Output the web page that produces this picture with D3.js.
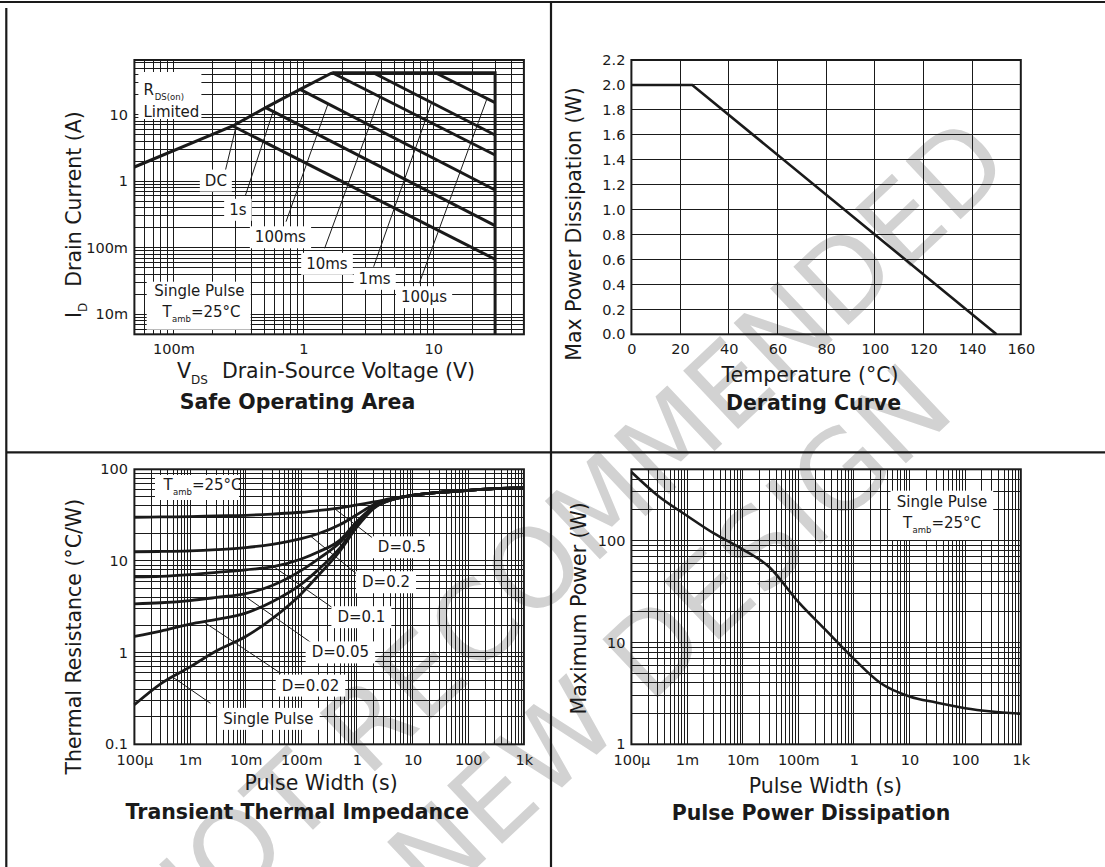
<!DOCTYPE html>
<html>
<head>
<meta charset="utf-8">
<script src="https://cdn.jsdelivr.net/npm/d3@7"></script>
<style>
  body { margin: 0; background: #fff; }
  svg { display: block; }
  text { font-family: "DejaVu Sans", sans-serif; fill: #1a1a1a; }
  .tick text { font-size: 14.5px; }
  .note { font-size: 15px; }
  .sub { font-size: 8.5px; }
  .axis-title { font-size: 20.5px; }
  .title { font-size: 20.5px; font-weight: bold; }
</style>
</head>
<body>
<div id="sheet"></div>
<script>
// ---------- Safe Operating Area (VDS in V, ID in A) ----------
const soaXTicks = [0.1, 1, 10];
const soaXLabels = ["100m", "1", "10"];
const soaYTicks = [0.01, 0.1, 1, 10];
const soaYLabels = ["10m", "100m", "1", "10"];
const soaRdsLimit = [[0.05, 1.63], [0.286, 6.73], [0.513, 12.7], [0.944, 23.9], [1.67, 42.5]];
const soaOuterLimit = [[1.67, 42.5], [30, 42.5], [30, 0.005]];
const soaPulseNames = ["DC", "1s", "100ms", "10ms", "1ms", "100µs"];
const soaPulseStart = [[0.286, 6.73], [0.513, 12.7], [0.944, 23.9], [1.67, 42.5], [3.45, 42.5], [10.4, 42.5]];
const soaPulseEnd = [[30, 0.067], [30, 0.214], [30, 0.736], [30, 2.47], [30, 4.93], [30, 15.1]];
const soaLabelAt = [[0.212, 1.04], [0.313, 0.378], [0.666, 0.146], [1.52, 0.0583], [3.54, 0.0347], [8.5, 0.0184]];
const soaPointerFrom = [[0.248, 1.31], [0.359, 0.619], [0.736, 0.246], [1.46, 0.098], [3.48, 0.0518], [7.82, 0.0292]];
const soaPointerTo = [[0.302, 6.38], [0.585, 11.1], [1.55, 14.5], [3.9, 18.4], [9.73, 15.1], [26, 17.4]];

// ---------- Derating curve ----------
const derTemp = [0, 25, 150];
const derPower = [2.0, 2.0, 0.0];
const derXTicks = [0, 20, 40, 60, 80, 100, 120, 140, 160];
const derYTicks = [0, 0.2, 0.4, 0.6, 0.8, 1.0, 1.2, 1.4, 1.6, 1.8, 2.0, 2.2];

// ---------- Transient thermal impedance ----------
const timeTicks = [1e-4, 1e-3, 1e-2, 0.1, 1, 10, 100, 1000];
const timeLabels = ["100µ", "1m", "10m", "100m", "1", "10", "100", "1k"];
const zthYTicks = [0.1, 1, 10, 100];
const zthYLabels = ["0.1", "1", "10", "100"];
const zthTime = [1e-4, 3e-4, 1e-3, 3e-3, 1e-2, 3e-2, 0.1, 0.2, 0.5, 1, 2, 5, 10, 30, 100, 300, 1000];
const zthD05 = [30, 30.2, 30.5, 31, 31.5, 32.5, 34, 35.5, 38, 41, 44, 49, 52, 56, 59, 61.5, 62.5];
const zthD02 = [12.6, 12.7, 12.9, 13.3, 14, 15.2, 17.5, 19.8, 25, 32, 41, 48, 52, 56, 59, 61.5, 62.5];
const zthD01 = [6.7, 6.8, 7.1, 7.5, 8.0, 8.6, 10.5, 12.5, 17, 27, 39, 48, 52, 56, 59, 61.5, 62.5];
const zthD005 = [3.4, 3.5, 3.7, 4.0, 4.4, 5.4, 7.9, 10.5, 16, 26, 39, 48, 52, 56, 59, 61.5, 62.5];
const zthD002 = [1.5, 1.72, 2.05, 2.3, 2.7, 3.6, 5.6, 8, 14, 24.5, 38, 48, 52, 56, 59, 61.5, 62.5];
const zthSingle = [0.27, 0.46, 0.7, 1.05, 1.5, 2.35, 4.4, 6.9, 13, 23.5, 37.5, 48, 52, 56, 59, 61.5, 62.5];
const zthNames = ["D=0.5", "D=0.2", "D=0.1", "D=0.05", "D=0.02", "Single Pulse"];
const zthLabelAt = [[6.4, 14.3], [3.33, 5.94], [1.2, 2.47], [0.504, 1.02], [0.146, 0.443], [0.0256, 0.192]];
const zthPointerFrom = [[2.14, 16.9], [1.04, 7.03], [0.376, 3.04], [0.157, 1.26], [0.0426, 0.595], [0.00233, 0.28]];
const zthPointerTo = [[0.4, 37], [0.146, 18.7], [0.0319, 8.66], [0.0086, 4.33], [0.00175, 2.17], [0.00047, 0.55]];

// ---------- Pulse power dissipation ----------
const ppYTicks = [1, 10, 100];
const ppYLabels = ["1", "10", "100"];
const ppTime = [1e-4, 3e-4, 1e-3, 3e-3, 1e-2, 3e-2, 0.1, 0.3, 1, 3, 10, 30, 100, 300, 1000];
const ppPower = [470, 275, 175, 118, 82, 55, 25, 13.5, 6.9, 4.0, 2.95, 2.57, 2.26, 2.1, 2.0];

const watermark = ["NOT RECOMMENDED", "FOR NEW DESIGN"];

const ink = "#1a1a1a";
const svg = d3.select("#sheet").append("svg").attr("width", 1105).attr("height", 867);

// watermark sits under everything
svg.append("g").selectAll("text").data(watermark).join("text")
    .attr("transform", (d, i) => i === 0 ? "translate(566,539) rotate(-43.3)" : "translate(575,723) rotate(-43.3)")
    .attr("text-anchor", "middle")
    .attr("dominant-baseline", "central")
    .style("font-size", "110px")
    .style("fill", "#d2d2d2")
    .text(d => d);

// page frame
const border = svg.append("g").attr("stroke", ink).attr("stroke-width", 2.2);
border.append("line").attr("x1", 0).attr("x2", 1105).attr("y1", 2).attr("y2", 2);
border.append("line").attr("x1", 6.3).attr("x2", 6.3).attr("y1", 8).attr("y2", 867);
border.append("line").attr("x1", 551).attr("x2", 551).attr("y1", 2).attr("y2", 867);
border.append("line").attr("x1", 6.3).attr("x2", 1105).attr("y1", 452.3).attr("y2", 452.3);

const leftX = [134.4, 523.9], rightX = [631.4, 1020.8];
const topY = [334.3, 60], bottomY = [744.3, 469.3];

function plotFrame(x, y, xGrid, yGrid, xTicks, xLabels, yTicks, yLabels, padBottom, padLeft) {
    const g = svg.append("g");
    const [x0, x1] = x.range(), [y1, y0] = y.range();
    const grid = g.append("g").attr("stroke", ink).attr("stroke-width", 1).attr("shape-rendering", "crispEdges");
    grid.selectAll(".gx").data(xGrid).join("line").attr("class", "gx")
        .attr("x1", d => x(d)).attr("x2", d => x(d)).attr("y1", y0).attr("y2", y1);
    grid.selectAll(".gy").data(yGrid).join("line").attr("class", "gy")
        .attr("y1", d => y(d)).attr("y2", d => y(d)).attr("x1", x0).attr("x2", x1);
    g.append("rect").attr("x", x0).attr("y", y0).attr("width", x1 - x0).attr("height", y1 - y0)
        .attr("fill", "none").attr("stroke", ink).attr("stroke-width", 2);
    g.append("g").attr("transform", `translate(0,${y1})`)
        .call(d3.axisBottom(x).tickValues(xTicks).tickFormat((d, i) => xLabels[i]).tickSize(0).tickPadding(padBottom))
        .call(a => a.select(".domain").remove());
    g.append("g").attr("transform", `translate(${x0},0)`)
        .call(d3.axisLeft(y).tickValues(yTicks).tickFormat((d, i) => yLabels[i]).tickSize(0).tickPadding(padLeft))
        .call(a => a.select(".domain").remove());
    return g;
}

// white-backed label, centred on (x, y)
function noteBox(g, x, y, label, padX, padY) {
    const t = g.append("text").attr("class", "note").attr("x", x).attr("y", y)
        .attr("dy", "0.37em").attr("text-anchor", "middle").text(label);
    const b = t.node().getBBox();
    g.insert("rect", () => t.node())
        .attr("x", b.x - padX).attr("y", b.y - padY)
        .attr("width", b.width + 2 * padX).attr("height", b.height + 2 * padY)
        .attr("fill", "#fff");
}

// "T" with "amb" subscript then "=25°C"
function tambText(g, x, y, anchor) {
    const t = g.append("text").attr("class", "note").attr("x", x).attr("y", y).attr("text-anchor", anchor);
    t.append("tspan").text("T");
    t.append("tspan").attr("class", "sub").attr("dy", 5).attr("dx", 0.5).text("amb");
    t.append("tspan").attr("dy", -5).text("=25°C");
}

function axisTitles(xTitle, xPos, yTitle, yPos, title, titlePos) {
    if (xTitle) svg.append("text").attr("class", "axis-title").attr("x", xPos[0]).attr("y", xPos[1])
        .attr("text-anchor", "middle").text(xTitle);
    if (yTitle) svg.append("text").attr("class", "axis-title")
        .attr("transform", `translate(${yPos[0]},${yPos[1]}) rotate(-90)`)
        .attr("text-anchor", "middle").text(yTitle);
    svg.append("text").attr("class", "title").attr("x", titlePos[0]).attr("y", titlePos[1])
        .attr("text-anchor", "middle").text(title);
}

// ================= Safe Operating Area =================
{
    const x = d3.scaleLog().domain([0.05, 50]).range(leftX);
    const y = d3.scaleLog().domain([0.005, 66]).range(topY);
    const g = plotFrame(x, y, x.ticks(), y.ticks(), soaXTicks, soaXLabels, soaYTicks, soaYLabels, 9.4, 6.4);
    const line = d3.line().x(d => x(d[0])).y(d => y(d[1]));

    const curves = g.append("g").attr("fill", "none").attr("stroke", ink).attr("stroke-width", 3);
    curves.append("path").attr("d", line(soaRdsLimit));
    curves.append("path").attr("d", line(soaOuterLimit));
    curves.selectAll(".pulse").data(soaPulseNames).join("path").attr("class", "pulse")
        .attr("d", (d, i) => line([soaPulseStart[i], soaPulseEnd[i]]));

    g.append("g").attr("stroke", ink).attr("stroke-width", 1)
        .selectAll("line").data(soaPulseNames).join("line")
        .attr("x1", (d, i) => x(soaPointerFrom[i][0])).attr("y1", (d, i) => y(soaPointerFrom[i][1]))
        .attr("x2", (d, i) => x(soaPointerTo[i][0])).attr("y2", (d, i) => y(soaPointerTo[i][1]));
    soaPulseNames.forEach((name, i) => noteBox(g, x(soaLabelAt[i][0]), y(soaLabelAt[i][1]), name, 5, 2));

    // RDS(on) limited note
    const x0 = leftX[0], y0 = topY[1];
    g.append("rect").attr("x", x0 + 4).attr("y", y0 + 12).attr("width", 63).attr("height", 47).attr("fill", "#fff");
    const r = g.append("text").attr("class", "note").attr("x", x0 + 9).attr("y", y0 + 35);
    r.append("tspan").text("R");
    r.append("tspan").attr("class", "sub").attr("dy", 5).attr("dx", 1).text("DS(on)");
    g.append("text").attr("class", "note").attr("x", x0 + 9).attr("y", y0 + 56.5).text("Limited");

    // single pulse note
    g.append("rect").attr("x", x0 + 12.3).attr("y", 281.7).attr("width", 104).attr("height", 48).attr("fill", "#fff");
    g.append("text").attr("class", "note").attr("x", x0 + 65).attr("y", 296).attr("text-anchor", "middle").text("Single Pulse");
    tambText(g, x0 + 28, 316.7, "start");

    // axis titles with subscripts
    const xt = svg.append("text").attr("class", "axis-title").attr("x", 177).attr("y", 378);
    xt.append("tspan").text("V");
    xt.append("tspan").style("font-size", "12px").attr("dy", 6).text("DS");
    xt.append("tspan").attr("dy", -6).attr("dx", 14).text("Drain-Source Voltage (V)");
    const yt = svg.append("text").attr("class", "axis-title").attr("transform", "translate(81,318) rotate(-90)");
    yt.append("tspan").text("I");
    yt.append("tspan").style("font-size", "12px").attr("dy", 6).text("D");
    yt.append("tspan").attr("dy", -6).attr("dx", 16).text("Drain Current (A)");
    axisTitles(null, null, null, null, "Safe Operating Area", [297.5, 408.5]);
}

// ================= Derating curve =================
{
    const x = d3.scaleLinear().domain([0, 160]).range(rightX);
    const y = d3.scaleLinear().domain([0, 2.2]).range(topY);
    const g = plotFrame(x, y, derXTicks, derYTicks, derXTicks, derXTicks.map(String),
        derYTicks, derYTicks.map(d3.format(".1f")), 9.4, 6);
    g.append("path").datum(derTemp.map((t, i) => [t, derPower[i]]))
        .attr("fill", "none").attr("stroke", ink).attr("stroke-width", 2.6)
        .attr("d", d3.line().x(d => x(d[0])).y(d => y(d[1])));
    axisTitles("Temperature (°C)", [810, 382], "Max Power Dissipation (W)", [581, 224],
        "Derating Curve", [813.5, 410]);
}

// ================= Transient thermal impedance =================
{
    const x = d3.scaleLog().domain([1e-4, 1e3]).range(leftX);
    const y = d3.scaleLog().domain([0.1, 100]).range(bottomY);
    const g = plotFrame(x, y, x.ticks(), y.ticks(), timeTicks, timeLabels, zthYTicks, zthYLabels, 10.4, 6.4);
    const series = [zthD05, zthD02, zthD01, zthD005, zthD002, zthSingle];
    const line = d3.line().x((d, i) => x(zthTime[i])).y(d => y(d)).curve(d3.curveMonotoneX);
    g.append("g").attr("fill", "none").attr("stroke", ink).attr("stroke-width", 2.8)
        .selectAll("path").data(series).join("path").attr("d", line);

    g.append("g").attr("stroke", ink).attr("stroke-width", 1)
        .selectAll("line").data(zthNames).join("line")
        .attr("x1", (d, i) => x(zthPointerFrom[i][0])).attr("y1", (d, i) => y(zthPointerFrom[i][1]))
        .attr("x2", (d, i) => x(zthPointerTo[i][0])).attr("y2", (d, i) => y(zthPointerTo[i][1]));
    zthNames.forEach((name, i) => noteBox(g, x(zthLabelAt[i][0]), y(zthLabelAt[i][1]), name, 6, 2));

    g.append("rect").attr("x", leftX[0] + 20.6).attr("y", 475).attr("width", 84).attr("height", 25).attr("fill", "#fff");
    tambText(g, leftX[0] + 29, 490, "start");

    axisTitles("Pulse Width (s)", [321, 790], "Thermal Resistance (°C/W)", [81, 636.7],
        "Transient Thermal Impedance", [297.4, 818.5]);
}

// ================= Pulse power dissipation =================
{
    const x = d3.scaleLog().domain([1e-4, 1e3]).range(rightX);
    const y = d3.scaleLog().domain([1, 500]).range(bottomY);
    const g = plotFrame(x, y, x.ticks(), y.ticks(), timeTicks, timeLabels, ppYTicks, ppYLabels, 10.4, 6);
    g.append("path").datum(ppPower)
        .attr("fill", "none").attr("stroke", ink).attr("stroke-width", 2.6)
        .attr("d", d3.line().x((d, i) => x(ppTime[i])).y(d => y(d)).curve(d3.curveMonotoneX));

    g.append("rect").attr("x", 890.5).attr("y", 490.7).attr("width", 102.7).attr("height", 49.3).attr("fill", "#fff");
    g.append("text").attr("class", "note").attr("x", 942).attr("y", 506.7).attr("text-anchor", "middle").text("Single Pulse");
    tambText(g, 942, 528.3, "middle");

    axisTitles("Pulse Width (s)", [825.3, 793], "Maximum Power (W)", [586, 608.3],
        "Pulse Power Dissipation", [811, 820]);
}
</script>
</body>
</html>
